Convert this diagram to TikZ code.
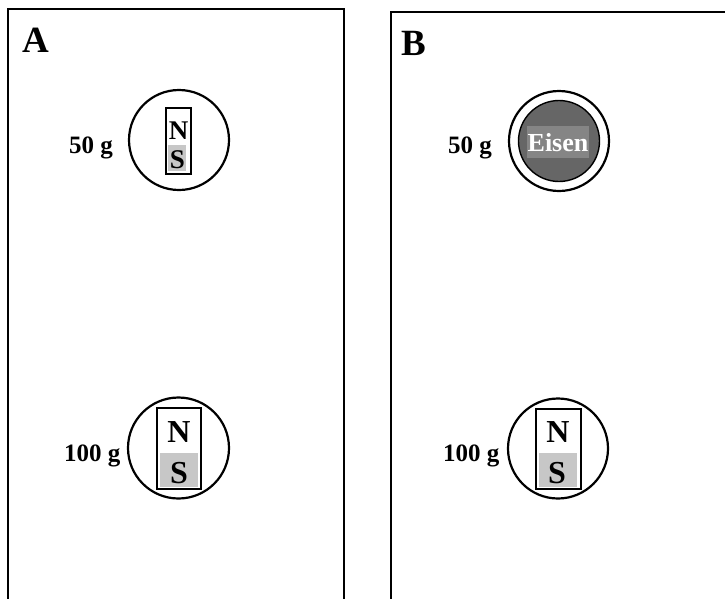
\documentclass[tikz,border=0pt]{standalone}
\usepackage{fontspec}
\setmainfont{Liberation Serif}
\begin{document}
\begin{tikzpicture}[x=1pt,y=-1pt,
  frame/.style={line width=2pt},
  ring/.style={draw,circle,line width=2.2pt,inner sep=0pt},
  magbox/.style={draw,line width=2.2pt},
  lbl/.style={font=\bfseries\fontsize{25}{25}\selectfont,inner sep=0pt},
  panel/.style={font=\bfseries\fontsize{37}{37}\selectfont,inner sep=0pt},
  pole/.style={font=\bfseries\fontsize{27}{27}\selectfont,inner sep=0pt},
  bigpole/.style={font=\bfseries\fontsize{32}{32}\selectfont,inner sep=0pt}]
\useasboundingbox (0,0) rectangle (725,598);
% frames
\draw[frame] (7.5,600) -- (7.5,9) -- (344,9) -- (344,600);
\draw[frame] (390.5,600) -- (390.5,11.5) -- (730,11.5);
\node[panel,anchor=base west] (pa) at (22,52) {A};
\node[panel,anchor=base west] (pb) at (401,55) {B};

% A top
\node[ring,minimum width=100pt,minimum height=97pt] (ca1) at (179,140) {};
\fill[black!22] (168,145) rectangle (186,171);
\node[magbox,minimum width=25pt,minimum height=66pt,inner sep=0pt] (ma1) at (178.5,141) {};
\node[pole,anchor=base] (n1) at (178.5,139.5) {N};
\node[pole,anchor=base] (s1) at (177.5,168.5) {S};
\node[lbl,anchor=base west] (w1) at (69,153) {50 g};

% A bottom
\node[ring,minimum width=101pt,minimum height=98pt] (ca2) at (178.5,448) {};
\fill[black!22] (160,453) rectangle (198,487);
\node[magbox,minimum width=44pt,minimum height=81pt,inner sep=0pt] (ma2) at (179,448.5) {};
\node[bigpole,anchor=base] (n2) at (179,442.5) {N};
\node[bigpole,anchor=base] (s2) at (179,483.5) {S};
\node[lbl,anchor=base west] (w2) at (64,461) {100 g};

% B top
\node[ring,minimum width=100pt,minimum height=96pt] (cb1) at (559,141) {};
\node[circle,draw,line width=1.4pt,fill=black!60,minimum width=81pt,minimum height=78pt,inner sep=0pt] (fe) at (559,141) {};
\fill[black!48] (527,126) rectangle (589,158);
\node[lbl,anchor=base,text=white,font=\bfseries\fontsize{26}{26}\selectfont] (eisen) at (558,151) {Eisen};
\node[lbl,anchor=base west] (w3) at (448,153) {50 g};

% B bottom
\node[ring,minimum width=100pt,minimum height=97pt] (cb2) at (558,448.5) {};
\fill[black!22] (539,453) rectangle (577,487);
\node[magbox,minimum width=45pt,minimum height=80pt,inner sep=0pt] (mb2) at (558.5,449) {};
\node[bigpole,anchor=base] (n3) at (558,442.5) {N};
\node[bigpole,anchor=base] (s3) at (557,483.5) {S};
\node[lbl,anchor=base west] (w4) at (443,461) {100 g};
\end{tikzpicture}
\end{document}
